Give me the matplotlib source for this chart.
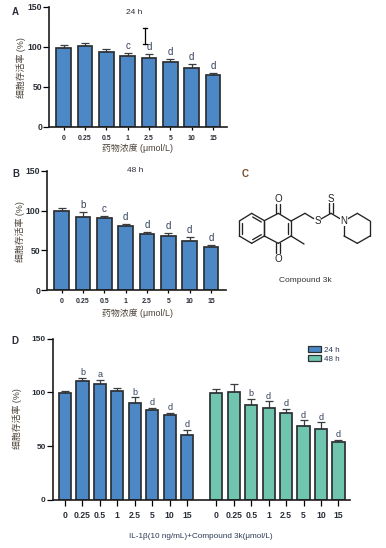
# -*- coding: utf-8 -*-
import numpy as np
import matplotlib
matplotlib.use("Agg")
import matplotlib.pyplot as plt
from matplotlib.patches import Patch

plt.rcParams["font.family"] = ["Liberation Sans", "Noto Sans CJK SC", "DejaVu Sans"]

W, H = 386, 548
BLUE = "#4c87c6"
TEAL = "#70c5ae"
EDGE = "#2c3034"
TEXT = "#2a2e36"
LABEL = "#4a4238"

conc = ["0", "0.25", "0.5", "1", "2.5", "5", "10", "15"]
y_ticks = [0, 50, 100, 150]

a_vals = [99, 100.7, 93.6, 88, 86.5, 80.6, 73, 64.4]
a_tops = [102, 104.5, 97, 92, 91, 84.5, 78, 67.7]
a_sig = ["", "", "", "c", "d", "d", "d", "d"]

b_vals = [99.6, 92.4, 90.3, 80.7, 70.6, 68.5, 62.2, 54.2]
b_tops = [103, 98, 93.7, 82.8, 73, 71.4, 66.4, 57]
b_sig = ["", "b", "c", "d", "d", "d", "d", "d"]

d1_vals = [99.8, 110.3, 108, 101.3, 90, 83.4, 78.7, 60.7]
d1_tops = [101.3, 113.7, 112, 103.8, 95.4, 86, 81, 65]
d1_sig = ["", "b", "a", "", "b", "d", "d", "d"]

d2_vals = [99.5, 100.4, 88, 85.8, 80.6, 68.5, 65.7, 54]
d2_tops = [102.9, 107.5, 93.6, 91.7, 84.3, 74, 72.2, 56]
d2_sig = ["", "", "b", "d", "d", "d", "d", "d"]

fig = plt.figure(figsize=(W / 100, H / 100), dpi=100, facecolor="white")

# overlay in pixel coordinates, for labels and the structure drawing
ov = fig.add_axes([0, 0, 1, 1], zorder=5)
ov.set_xlim(0, W)
ov.set_ylim(H, 0)
ov.axis("off")
ov.patch.set_alpha(0)


def make_axes(left, right, top, bottom):
    ax = fig.add_axes([left / W, 1 - bottom / H, (right - left) / W, (bottom - top) / H])
    ax.set_ylim(0, 150)
    ax.set_yticks(y_ticks)
    for s in ("top", "right"):
        ax.spines[s].set_visible(False)
    for s in ("left", "bottom"):
        ax.spines[s].set_linewidth(1.2)
        ax.spines[s].set_color("#1c1c1c")
    return ax


def draw_bars(ax, x, vals, tops, sig, color, sig_size=7, gap=2.5):
    vals = np.array(vals)
    tops = np.array(tops)
    ax.bar(x, vals, width=0.7, color=color, edgecolor=EDGE, linewidth=1.25, zorder=2)
    ax.errorbar(x, vals, yerr=[np.zeros(len(vals)), tops - vals], fmt="none",
                ecolor="#3a3d40", elinewidth=0.9, capsize=2.8, capthick=0.9, zorder=1)
    for xi, t, s in zip(x, tops, sig):
        if s:
            ax.text(xi, t + gap, s, ha="center", va="bottom", fontsize=sig_size, color="#33415c")


def small_panel(left, right, top, bottom, x0, dx, vals, tops, sig):
    ax = make_axes(left, right, top, bottom)
    x = np.arange(len(vals))
    ax.set_xlim(-(x0 - left) / dx, (right - x0) / dx)
    draw_bars(ax, x, vals, tops, sig, BLUE)
    ax.set_xticks(x)
    ax.set_xticklabels(conc, fontsize=5, fontweight="bold", color=TEXT)
    ax.tick_params(axis="x", length=2.5, width=0.9, pad=3.5)
    ax.tick_params(axis="y", length=4, width=0.9, pad=1, labelsize=6.2, labelcolor=TEXT)
    for t in ax.get_yticklabels():
        t.set_fontweight("bold")
    return ax


small_panel(49, 227, 7, 126.7, 63.7, 21.33, a_vals, a_tops, a_sig)
small_panel(47.3, 225.7, 171, 290, 61.7, 21.33, b_vals, b_tops, b_sig)

# panel D
dx = 17.45
ax_d = make_axes(53.3, 350, 338.7, 500)
x1 = np.arange(8)
x2 = np.arange(8) + (216.3 - 65) / dx
ax_d.set_xlim(-(65 - 53.3) / dx, (350 - 65) / dx)
draw_bars(ax_d, x1, d1_vals, d1_tops, d1_sig, BLUE, sig_size=6.5, gap=0.8)
draw_bars(ax_d, x2, d2_vals, d2_tops, d2_sig, TEAL, sig_size=6.5, gap=0.8)
ax_d.set_xticks(np.concatenate([x1, x2]))
ax_d.set_xticklabels(conc + conc, fontsize=6.2, fontweight="bold", color=TEXT)
ax_d.tick_params(axis="x", length=4.5, width=0.9, pad=3.5)
ax_d.tick_params(axis="y", length=4.5, width=0.9, pad=1, labelsize=6, labelcolor=TEXT)
for t in ax_d.get_yticklabels():
    t.set_fontweight("bold")

ax_d.legend(handles=[Patch(facecolor=BLUE, edgecolor=EDGE, linewidth=0.9, label="24 h"),
                     Patch(facecolor=TEAL, edgecolor=EDGE, linewidth=0.9, label="48 h")],
            loc="upper left", bbox_to_anchor=(308, 346), bbox_transform=ov.transData,
            frameon=False, fontsize=5.8, labelcolor="#2d3a55", handlelength=1.65, handleheight=0.85,
            handletextpad=0.35, labelspacing=0.12, borderpad=0, borderaxespad=0)

# text labels
for x, y, s in [(21, 68, "细胞存活率 (%)"), (20, 232, "细胞存活率 (%)"), (17, 419, "细胞存活率 (%)")]:
    ov.text(x, y, s, rotation=90, ha="center", va="center", fontsize=6.4, color=LABEL)
for x, y in [(138, 148), (138, 313.5)]:
    ov.text(x, y, "药物浓度 (μmol/L)", ha="center", va="center", fontsize=6.4, color=LABEL)
ov.text(201, 537, "IL-1β(10 ng/mL)+Compound 3k(μmol/L)", ha="center", va="center",
        fontsize=5.9, color="#2d3a55")
ov.text(134, 12, "24 h", ha="center", va="center", fontsize=6, color=TEXT)
ov.text(135.5, 170, "48 h", ha="center", va="center", fontsize=6, color=TEXT)
for x, y, s, c in [(15, 12, "A", TEXT), (16, 174, "B", TEXT), (245, 174, "C", "#7a4a20"), (15, 341, "D", TEXT)]:
    ov.text(x, y, s, ha="center", va="center", fontsize=7, fontweight="bold", color=c)

# I-beam cursor captured in the screenshot
ov.plot([145, 145], [28, 44], color="black", lw=0.9)
ov.plot([143, 147], [27.5, 27.5], color="black", lw=0.9)
ov.plot([143, 147], [44, 44], color="black", lw=0.9)


# compound 3k skeleton, zoom-crop units relative to (220, 160)
def sx(v):
    return 220 + v / 3


def sy(v):
    return 160 + v / 3


def bond(p, q, lw=0.95):
    ov.plot([sx(p[0]), sx(q[0])], [sy(p[1]), sy(q[1])], color="#222222", lw=lw, solid_capstyle="round")


left_ring = [(95, 160), (133, 182), (133, 228), (95, 250), (58, 228), (58, 183)]
quinone = [(133, 182), (175, 160), (213, 183), (213, 228), (175, 250), (133, 228)]
pip_ring = [(372, 183), (412, 160), (450, 183), (450, 228), (412, 250), (372, 228)]
for ring in (left_ring, quinone, pip_ring):
    for i in range(len(ring)):
        bond(ring[i], ring[(i + 1) % len(ring)])
for p, q in [((98, 171), (124, 186)), ((124, 224), (98, 239)), ((67, 222), (67, 189)),
             ((204, 190), (204, 221))]:
    bond(p, q)
for p, q in [((169, 160), (169, 132)), ((181, 160), (181, 132)),
             ((169, 250), (169, 280)), ((181, 250), (181, 280)),
             ((327, 160), (327, 130)), ((339, 160), (339, 130)),
             ((213, 183), (255, 160)), ((255, 160), (281, 176)),
             ((303, 177), (333, 160)), ((333, 160), (360, 176)),
             ((213, 228), (252, 252))]:
    bond(p, q)
for x, y, s in [(175, 117, "O"), (175, 296, "O"), (292, 184, "S"), (333, 116, "S"), (372, 183, "N")]:
    ov.text(sx(x), sy(y), s, ha="center", va="center", fontsize=7, color="#222222",
            bbox=dict(facecolor="white", edgecolor="none", pad=0.2) if s == "N" else None)
ov.text(sx(256), sy(360), "Compound 3k", ha="center", va="center", fontsize=6, color="#333333")

fig.savefig("out.png", dpi=100)
